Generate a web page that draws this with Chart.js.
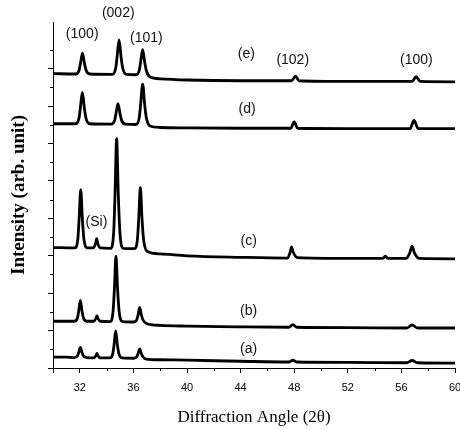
<!DOCTYPE html>
<html>
<head>
<meta charset="utf-8">
<script src="https://cdn.jsdelivr.net/npm/chart.js@4.4.1/dist/chart.umd.min.js"></script>
<style>
  html, body { margin: 0; padding: 0; background: #fff; }
</style>
</head>
<body>
<canvas id="graficoXrd" width="460" height="430"></canvas>
<script>
// tick labels shown on the 2theta axis
const xTickLabels = [32, 36, 40, 44, 48, 52, 56, 60]

// each curve: [2theta, intensity (arb., stacked)]
const curveA = [[30, 0.29], [31, 0.29], [31.59, 0.28], [31.82, 0.32], [31.92, 0.415], [32.04, 0.55], [32.16, 0.415], [32.28, 0.32], [32.54, 0.28],
  [33.03, 0.27], [33.2, 0.33], [33.28, 0.39], [33.36, 0.33], [33.53, 0.27],
  [34.23, 0.27], [34.46, 0.38], [34.56, 0.63], [34.68, 0.99], [34.8, 0.63], [34.92, 0.38], [35.18, 0.27],
  [36.02, 0.26], [36.25, 0.3], [36.35, 0.385], [36.47, 0.51], [36.59, 0.385], [36.71, 0.3], [36.97, 0.24],
  [38, 0.22], [40, 0.21], [44, 0.18], [47.6, 0.16], [47.9, 0.21], [48.2, 0.16], [52, 0.15],
  [56.4, 0.14], [56.8, 0.2], [57.2, 0.14], [60, 0.13]]

const curveB = [[30, 1.25], [31.59, 1.25], [31.82, 1.33], [31.92, 1.53], [32.04, 1.81], [32.16, 1.53], [32.28, 1.33], [32.54, 1.25],
  [33.03, 1.25], [33.2, 1.32], [33.28, 1.39], [33.36, 1.32], [33.53, 1.25],
  [34.25, 1.24], [34.48, 1.5], [34.58, 2.1], [34.7, 2.99], [34.82, 2.1], [34.94, 1.5], [35.2, 1.24],
  [36.02, 1.23], [36.25, 1.29], [36.35, 1.42], [36.47, 1.62], [36.59, 1.42], [36.71, 1.29], [36.97, 1.19],
  [38, 1.14], [40, 1.12], [44, 1.1], [47.6, 1.09], [47.9, 1.16], [48.2, 1.09], [52, 1.08],
  [56.4, 1.07], [56.8, 1.15], [57.2, 1.07], [60, 1.07]]

const curveC = [[30, 3.22], [31.62, 3.21], [31.85, 3.44], [31.95, 3.99], [32.07, 4.77], [32.19, 3.99], [32.31, 3.44], [32.57, 3.21],
  [33.01, 3.21], [33.18, 3.33], [33.26, 3.46], [33.34, 3.33], [33.51, 3.21],
  [34.3, 3.2], [34.53, 3.64], [34.63, 4.67], [34.75, 6.13], [34.87, 4.67], [34.99, 3.64], [35.25, 3.2],
  [36.07, 3.19], [36.3, 3.44], [36.4, 4.01], [36.52, 4.83], [36.64, 4.01], [36.76, 3.44], [37.02, 3.12],
  [38, 3.05], [40, 3.0], [44, 2.96], [47.5, 2.94], [47.7, 3.1], [47.8, 3.24], [47.92, 3.1], [48.25, 2.95], [52, 2.93],
  [54.6, 2.93], [54.8, 2.99], [55.0, 2.93], [56.35, 2.93], [56.63, 3.08], [56.8, 3.26], [56.97, 3.08], [57.35, 2.93], [60, 2.92]]

const curveD = [[30, 6.53], [31.69, 6.53], [31.94, 6.68], [32.04, 6.95], [32.19, 7.37], [32.34, 6.95], [32.46, 6.68], [32.74, 6.53],
  [34.35, 6.52], [34.6, 6.62], [34.7, 6.8], [34.85, 7.07], [35.0, 6.8], [35.12, 6.62], [35.4, 6.52],
  [36.19, 6.51], [36.44, 6.7], [36.54, 7.05], [36.69, 7.59], [36.84, 7.05], [36.96, 6.7], [37.24, 6.47],
  [38, 6.43], [40, 6.42], [44, 6.41], [47.75, 6.41], [48.0, 6.58], [48.25, 6.41], [52, 6.4],
  [56.65, 6.4], [56.94, 6.62], [57.25, 6.4], [60, 6.4]]

const curveE = [[30, 7.87], [31.7, 7.86], [31.95, 7.96], [32.05, 8.14], [32.2, 8.42], [32.35, 8.14], [32.47, 7.96], [32.75, 7.86],
  [34.43, 7.85], [34.68, 8.02], [34.78, 8.31], [34.93, 8.77], [35.08, 8.31], [35.2, 8.02], [35.48, 7.85],
  [36.19, 7.84], [36.44, 7.96], [36.54, 8.18], [36.69, 8.51], [36.84, 8.18], [36.96, 7.96], [37.24, 7.78],
  [38, 7.73], [40, 7.7], [44, 7.68], [47.8, 7.68], [48.1, 7.8], [48.35, 7.68], [52, 7.66],
  [56.8, 7.66], [57.1, 7.79], [57.4, 7.66], [60, 7.65]]

const curveNames = ['(a)', '(b)', '(c)', '(d)', '(e)']

// text written on the plot, placed in data units
const labelText = ['(100)', '(002)', '(101)', '(102)', '(100)', '(Si)', '(e)', '(d)', '(c)', '(b)', '(a)']
const labelX = [32.18, 34.87, 36.97, 47.89, 57.12, 33.24, 44.43, 44.48, 44.6, 44.6, 44.6]
const labelY = [8.93, 9.48, 8.83, 8.24, 8.24, 3.9, 8.4, 6.93, 3.39, 1.52, 0.51]

const isMajorX = v => v === 30 || xTickLabels.includes(v)
const isMajorY = v => Number.isInteger(v) && v <= 9
const isMinorY = v => Math.abs(v % 1 - 0.5) < 1e-6

// short ticks between the labelled ones
const minorTicks = {
  id: 'minorTicks',
  afterDraw(chart) {
    const ctx = chart.ctx
    const sx = chart.scales.x
    const sy = chart.scales.y
    ctx.save()
    ctx.strokeStyle = '#000'
    ctx.lineWidth = 1
    ctx.beginPath()
    sx.ticks.forEach(t => {
      if (isMajorX(t.value)) return
      const px = Math.round(sx.getPixelForValue(t.value)) + 0.5
      ctx.moveTo(px, chart.chartArea.bottom)
      ctx.lineTo(px, chart.chartArea.bottom + 3)
    })
    sy.ticks.forEach(t => {
      if (!isMinorY(t.value)) return
      const py = Math.round(sy.getPixelForValue(t.value)) + 0.5
      ctx.moveTo(chart.chartArea.left, py)
      ctx.lineTo(chart.chartArea.left - 3, py)
    })
    ctx.stroke()
    ctx.restore()
  }
}

const plotLabels = {
  id: 'plotLabels',
  afterDatasetsDraw(chart) {
    const ctx = chart.ctx
    const sx = chart.scales.x
    const sy = chart.scales.y
    ctx.save()
    ctx.fillStyle = '#111'
    ctx.font = '14px "Liberation Sans", Arial, sans-serif'
    ctx.textAlign = 'center'
    ctx.textBaseline = 'middle'
    labelText.forEach((txt, i) => {
      ctx.fillText(txt, sx.getPixelForValue(labelX[i]), sy.getPixelForValue(labelY[i]))
    })
    ctx.restore()
  }
}

const toPoints = arr => arr.map(p => ({ x: p[0], y: p[1] }))

new Chart(document.getElementById('graficoXrd'), {
  type: 'line',
  data: {
    datasets: [curveA, curveB, curveC, curveD, curveE].map((c, i) => ({
      label: curveNames[i],
      data: toPoints(c),
      borderColor: '#000',
      borderWidth: 2.8,
      borderJoinStyle: 'round',
      cubicInterpolationMode: 'monotone',
      pointRadius: 0,
      fill: false
    }))
  },
  options: {
    responsive: false,
    animation: false,
    layout: { padding: { top: 22, right: 5, left: 0, bottom: 0 } },
    plugins: {
      legend: { display: false },
      tooltip: { enabled: false }
    },
    scales: {
      x: {
        type: 'linear',
        min: 30,
        max: 60,
        border: { color: '#000', width: 1 },
        grid: {
          drawOnChartArea: false,
          tickLength: 5,
          tickColor: c => isMajorX(c.tick.value) ? '#000' : 'rgba(0,0,0,0)'
        },
        ticks: {
          stepSize: 2,
          autoSkip: false,
          maxRotation: 0,
          padding: 8,
          color: '#000',
          font: { family: '"Liberation Sans", Arial, sans-serif', size: 11 },
          callback: v => xTickLabels.includes(v) ? String(v) : ''
        },
        title: {
          display: true,
          text: 'Diffraction Angle (2θ)',
          color: '#000',
          font: { family: '"Liberation Serif", "Times New Roman", serif', size: 17 },
          padding: { top: 0, bottom: 2 }
        },
        afterFit: s => { s.height = 62; s.paddingLeft = 0; s.paddingRight = 0 }
      },
      y: {
        min: 0,
        max: 9.25,
        border: { color: '#000', width: 1 },
        grid: {
          drawOnChartArea: false,
          tickLength: 5,
          tickColor: c => isMajorY(c.tick.value) ? '#000' : 'rgba(0,0,0,0)'
        },
        ticks: { stepSize: 0.5, display: false },
        title: {
          display: true,
          text: 'Intensity (arb. unit)',
          color: '#000',
          font: { family: '"Liberation Serif", "Times New Roman", serif', size: 19, weight: 'bold' },
          padding: { top: 8, bottom: 0 }
        },
        afterFit: s => { s.width = 53 }
      }
    }
  },
  plugins: [minorTicks, plotLabels]
})
</script>
</body>
</html>
